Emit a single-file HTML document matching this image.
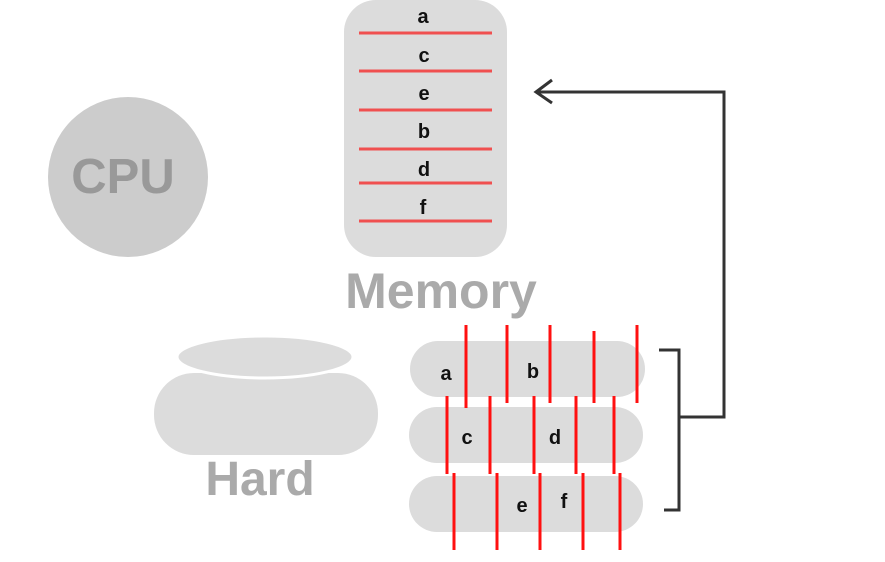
<!DOCTYPE html>
<html><head><meta charset="utf-8"><style>html,body{margin:0;padding:0;background:#fff}svg{display:block}</style></head>
<body>
<svg width="885" height="562" xmlns="http://www.w3.org/2000/svg" font-family="Liberation Sans, sans-serif" font-weight="bold">
<circle cx="128" cy="177" r="80" fill="#cccccc"/>
<text x="123" y="193" font-size="49" fill="#999" text-anchor="middle">CPU</text>
<rect x="344" y="0" width="163" height="257" rx="32" fill="#dcdcdc"/>
<g stroke="#f05050" stroke-width="3">
<line x1="359" y1="33" x2="492" y2="33"/><line x1="359" y1="71" x2="492" y2="71"/>
<line x1="359" y1="110" x2="492" y2="110"/><line x1="359" y1="149" x2="492" y2="149"/>
<line x1="359" y1="183" x2="492" y2="183"/><line x1="359" y1="221" x2="492" y2="221"/>
</g>
<g font-size="20" fill="#111" text-anchor="middle">
<text x="423" y="23">a</text><text x="424" y="62">c</text><text x="424" y="100">e</text>
<text x="424" y="138">b</text><text x="424" y="176">d</text><text x="423" y="214">f</text>
</g>
<text x="441" y="308" font-size="50" fill="#aaa" text-anchor="middle">Memory</text>
<rect x="154" y="373" width="224" height="82" rx="40" fill="#dcdcdc"/>
<ellipse cx="265" cy="357" rx="88" ry="21" fill="#dcdcdc" stroke="#fff" stroke-width="3"/>
<text x="260" y="495" font-size="48" fill="#aaa" text-anchor="middle">Hard</text>
<rect x="410" y="341" width="235" height="56" rx="28" fill="#dcdcdc"/>
<rect x="409" y="407" width="234" height="56" rx="28" fill="#dcdcdc"/>
<rect x="409" y="476" width="234" height="56" rx="28" fill="#dcdcdc"/>
<g stroke="#ff1010" stroke-width="3">
<line x1="466" y1="325" x2="466" y2="408"/><line x1="507" y1="325" x2="507" y2="403"/>
<line x1="550" y1="325" x2="550" y2="403"/><line x1="594" y1="331" x2="594" y2="403"/>
<line x1="637" y1="325" x2="637" y2="403"/>
<line x1="447" y1="396" x2="447" y2="474"/><line x1="490" y1="396" x2="490" y2="474"/>
<line x1="534" y1="396" x2="534" y2="474"/><line x1="576" y1="396" x2="576" y2="474"/>
<line x1="614" y1="396" x2="614" y2="474"/>
<line x1="454" y1="473" x2="454" y2="550"/><line x1="497" y1="473" x2="497" y2="550"/>
<line x1="540" y1="473" x2="540" y2="550"/><line x1="583" y1="473" x2="583" y2="550"/>
<line x1="620" y1="473" x2="620" y2="550"/>
</g>
<g font-size="20" fill="#111" text-anchor="middle">
<text x="446" y="380">a</text><text x="533" y="378">b</text>
<text x="467" y="444">c</text><text x="555" y="444">d</text>
<text x="522" y="512">e</text><text x="564" y="508">f</text>
</g>
<g stroke="#333" stroke-width="3" fill="none">
<polyline points="659,350 679,350 679,510 664,510"/>
<polyline points="679,417 724,417 724,92 536,92"/>
<polyline points="552,80 536,92 552,103"/>
</g>
</svg>
</body></html>
